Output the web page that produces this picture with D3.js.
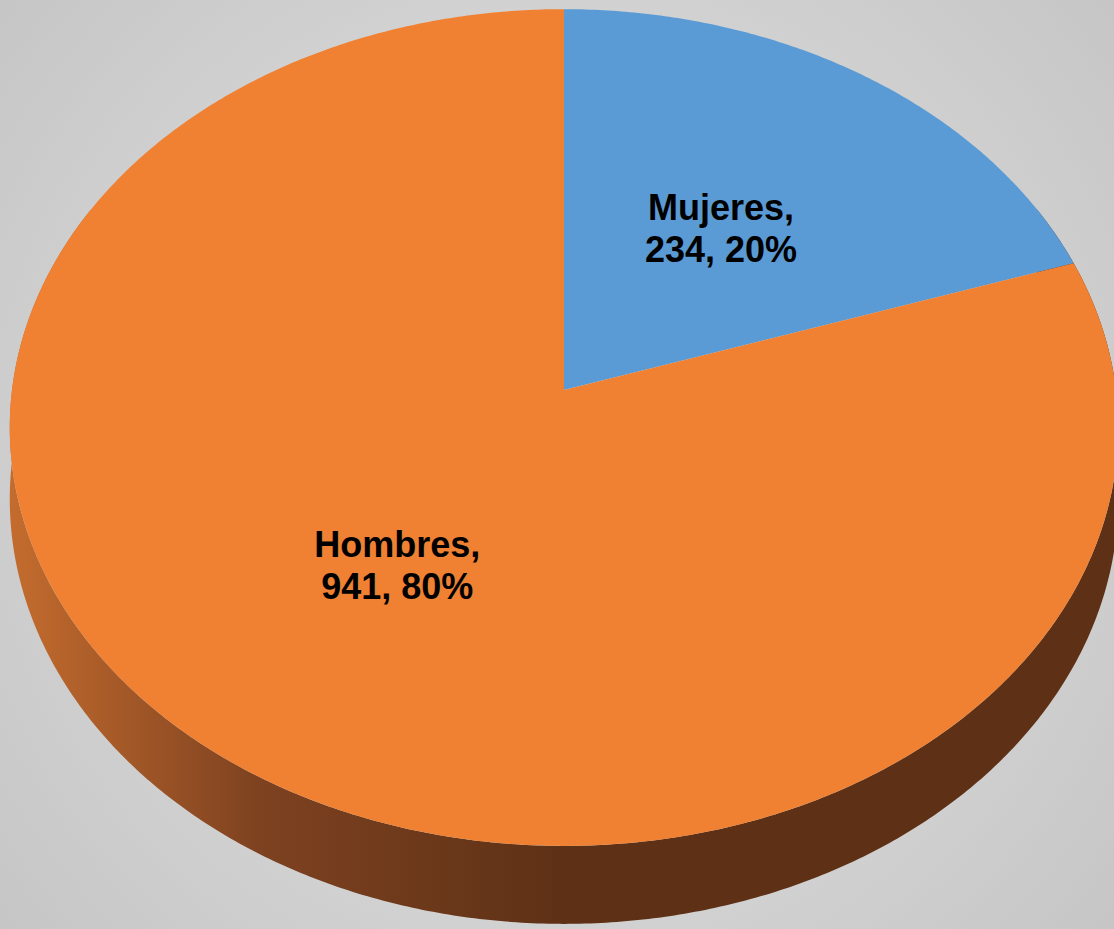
<!DOCTYPE html>
<html lang="es">
<head>
  <meta charset="UTF-8" />
  <title>Hombres y Mujeres</title>
  <script src="https://d3js.org/d3.v7.min.js"></script>
  <style>
    html, body { margin: 0; padding: 0; overflow: hidden; }
    svg { display: block; font-family: "Liberation Sans", Arial, sans-serif; }
    .label { font-size: 36px; font-weight: bold; fill: #000; }
  </style>
</head>
<body>
  <svg width="1114" height="929"></svg>

  <script>
    const categories = ["Mujeres", "Hombres"];
    const values = [234, 941];
    const percentLabels = ["20%", "80%"];
    const colors = ["#5b9bd5", "#f08133"];

    const W = 1114, H = 929;
    const svg = d3.select("svg");

    // perspective projection of a flat disc: angle measured clockwise from the back
    const X0 = 564, Y0 = 390, A = 552, B = 415, k = 0.0897, depth = 71;
    function proj(theta, r, down) {
      const x = r * Math.sin(theta), z = -r * Math.cos(theta);
      const w = 1 - k * z;
      return [X0 + A * x / w, Y0 + (B * z + (down ? depth : 0)) / w];
    }

    const defs = svg.append("defs");
    const bg = defs.append("radialGradient").attr("id", "bg")
      .attr("gradientUnits", "userSpaceOnUse")
      .attr("cx", 557).attr("cy", 465).attr("r", 760);
    bg.append("stop").attr("offset", 0).attr("stop-color", "#e6e6e6");
    bg.append("stop").attr("offset", 1).attr("stop-color", "#c4c4c4");

    const side = defs.append("linearGradient").attr("id", "side")
      .attr("gradientUnits", "userSpaceOnUse")
      .attr("x1", 10).attr("y1", 0).attr("x2", 560).attr("y2", 0);
    side.append("stop").attr("offset", 0).attr("stop-color", "#c46c2e");
    side.append("stop").attr("offset", 0.45).attr("stop-color", "#7e4220");
    side.append("stop").attr("offset", 1).attr("stop-color", "#5e3116");

    svg.append("rect").attr("width", W).attr("height", H).attr("fill", "url(#bg)");

    const pie = d3.pie().sort(null).value(d => d)(values);
    const step = Math.PI / 360;

    // side wall of the front part of the disc (back part is hidden by the top face)
    const t0 = Math.PI * 0.35, t1 = Math.PI * 1.65;
    const sidePts = [];
    for (let t = t0; t <= t1 + 1e-9; t += step) sidePts.push(proj(t, 1, false));
    for (let t = t1; t >= t0 - 1e-9; t -= step) sidePts.push(proj(t, 1, true));
    svg.append("path")
      .attr("d", d3.line()(sidePts) + "Z")
      .attr("fill", "url(#side)");

    // top faces
    svg.selectAll("path.slice")
      .data(pie)
      .join("path")
      .attr("class", "slice")
      .attr("fill", (d, i) => colors[i])
      .attr("d", d => {
        const pts = [proj(0, 0, false)];
        const n = Math.max(2, Math.ceil((d.endAngle - d.startAngle) / step));
        for (let j = 0; j <= n; j++) {
          pts.push(proj(d.startAngle + (d.endAngle - d.startAngle) * j / n, 1, false));
        }
        return d3.line()(pts) + "Z";
      });

    // labels
    const lab = svg.selectAll("text.label")
      .data(pie)
      .join("text")
      .attr("class", "label")
      .attr("text-anchor", "middle")
      .attr("transform", d => {
        const p = proj((d.startAngle + d.endAngle) / 2, 0.5, false);
        return `translate(${p[0] + 1},${p[1]})`;
      });
    lab.append("tspan").attr("x", 0).attr("y", -8)
      .text((d, i) => categories[i] + ",");
    lab.append("tspan").attr("x", 0).attr("y", 34)
      .text((d, i) => d.value + ", " + percentLabels[i]);
  </script>
</body>
</html>
